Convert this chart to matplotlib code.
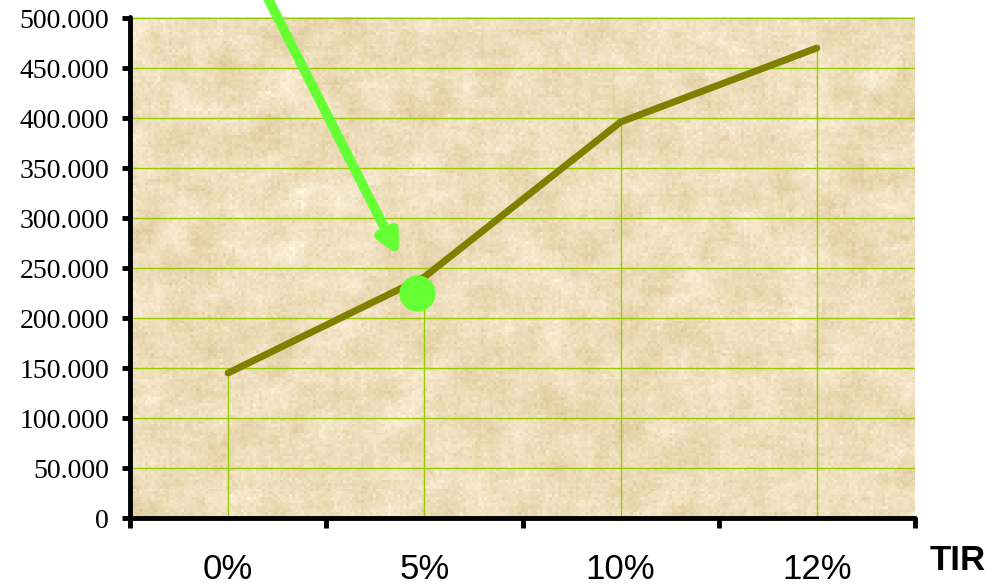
import matplotlib.pyplot as plt
import numpy as np

# TIR scenarios and values (in thousands)
categorias = ['0%', '5%', '10%', '12%']
valores = [145, 241, 396, 470]
punto_x = 0.96
punto_y = 225
yticks = list(range(0, 501, 50))
ytick_labels = ['0'] + ['%d.000' % v for v in yticks[1:]]

fig = plt.figure(figsize=(9.94, 5.85), dpi=100)
ax = fig.add_axes([130 / 994, 67 / 585, 785 / 994, 501 / 585])


def suavizar(a, n):
    k = np.ones(n) / n
    a = np.apply_along_axis(lambda r: np.convolve(r, k, mode='same'), 0, a)
    return np.apply_along_axis(lambda r: np.convolve(r, k, mode='same'), 1, a)


# parchment-like background texture
rng = np.random.default_rng(7)
h, w = 170, 262
fino = rng.normal(0, 1, (h, w))
grueso = suavizar(rng.normal(0, 1, (h + 20, w + 20)), 9)[10:-10, 10:-10]
grueso = grueso / grueso.std()
ruido = 0.5 * fino + 0.6 * grueso
base = np.array([238, 222, 187]) / 255.0
tono = np.array([6, 8, 13]) / 255.0
tex = np.clip(base[None, None, :] + ruido[..., None] * tono[None, None, :], 0, 1)
ax.imshow(tex, extent=[-0.5, 3.5, 0, 501], aspect='auto', zorder=0,
          interpolation='nearest')

x = np.arange(len(categorias))
for v in yticks:
    ax.axhline(v, color='#99cc00', lw=1.0, zorder=1)
ax.vlines(x, 0, valores, color='#99cc00', lw=1.0, zorder=1)
ax.plot(x, valores, color='#808000', lw=5, solid_capstyle='round',
        solid_joinstyle='round', zorder=3)

ax.plot([punto_x], [punto_y], 'o', color='#66ff33', ms=25, zorder=4)
ax.annotate('', xy=(0.87, 262), xytext=(0.15, 540),
            arrowprops=dict(arrowstyle='-|>,head_length=1.2,head_width=0.6',
                            color='#66ff33', lw=7, shrinkA=0, shrinkB=0),
            annotation_clip=False, zorder=5)

ax.set_xlim(-0.5, 3.5)
ax.set_ylim(0, 501)
ax.set_yticks(yticks)
ax.set_yticklabels(ytick_labels, fontfamily='Liberation Serif', fontsize=20)
ax.tick_params(axis='y', length=6, width=3.5, pad=9, direction='out')

ax.set_xticks(np.arange(-0.5, 3.6, 1))
ax.set_xticklabels([])
ax.tick_params(axis='x', which='major', length=7, width=3.5, direction='out')
ax.set_xticks(x, minor=True)
ax.set_xticklabels(categorias, minor=True, fontfamily='Liberation Sans',
                   fontsize=25)
ax.tick_params(axis='x', which='minor', length=0, pad=25)

for s in ['top', 'right']:
    ax.spines[s].set_visible(False)
for s in ['left', 'bottom']:
    ax.spines[s].set_linewidth(3.5)
    ax.spines[s].set_capstyle('round')

fig.text(958 / 994, 1 - 560 / 585, 'TIR', fontfamily='Liberation Sans',
         fontweight='bold', fontsize=25, ha='center', va='center')

fig.savefig('out.png', dpi=100)
